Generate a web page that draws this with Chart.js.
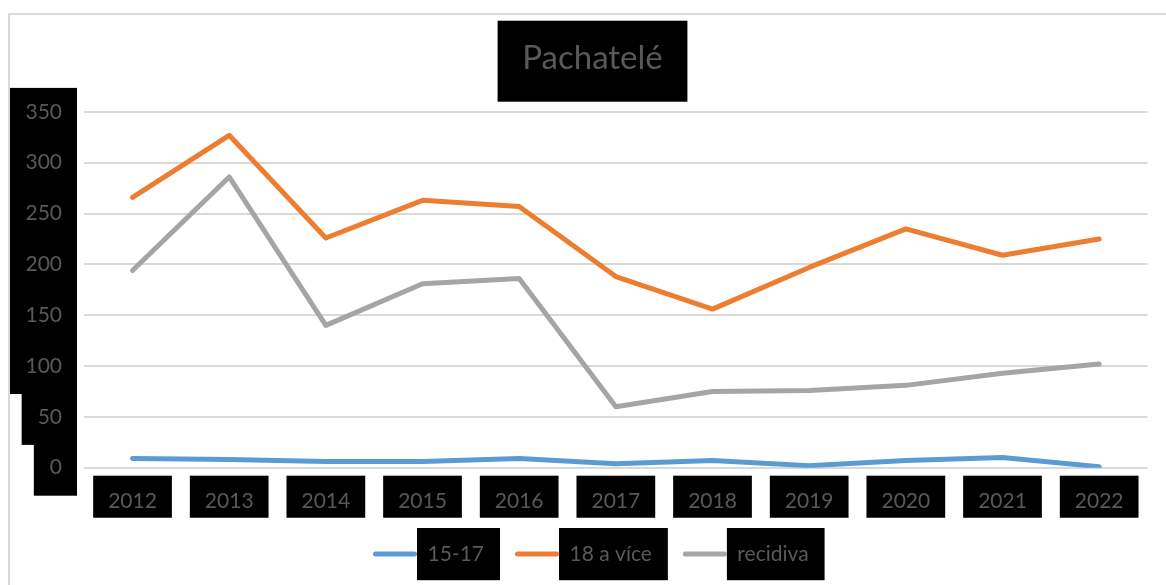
<!DOCTYPE html>
<html>
<head>
<meta charset="utf-8">
<script src="https://cdn.jsdelivr.net/npm/chart.js@4.4.1/dist/chart.umd.min.js"></script>
<style>
html,body{margin:0;padding:0;background:#fff;}
#wrap{width:1166px;height:585px;position:relative;overflow:hidden;}
canvas{display:block;}
</style>
</head>
<body>
<div id="wrap"><canvas id="c" width="1166" height="585"></canvas></div>
<script>
// ---- data ----
const years = ['2012','2013','2014','2015','2016','2017','2018','2019','2020','2021','2022'];
const age1517 = [9, 8, 6, 6, 9, 4, 7, 2, 7, 10, 1];
const age18plus = [266, 327, 226, 263, 257, 188, 156, 197, 235, 209, 225];
const recidiva = [194, 286, 140, 181, 186, 60, 75, 76, 81, 93, 102];
const seriesNames = ['15-17', '18 a více', 'recidiva'];
const seriesColors = ['#5b9bd5', '#ed7d31', '#a5a5a5'];
const titleText = 'Pachatelé';
const yMin = 0, yMax = 350, yStep = 50;

const TEXT = '#595959';
const FONT = 'Lato';
const LEGEND_BOX_W = 44;

const decor = {
  id: 'decor',
  afterLayout(chart) {
    const t = chart.titleBlock;
    if (t) {
      const d = 592.5 - (t.left + t.right) / 2;
      t.left += d; t.right += d;
    }
    const lg = chart.legend;
    if (lg && lg.lineWidths) {
      const pad = lg.options.labels.padding;
      const start = (lg.left + pad + lg.right - lg.lineWidths[0]) / 2;
      const dx = 373 - start;
      lg.left += dx; lg.right += dx;
      const newTop = 554 - pad - 10.5;
      const dy = newTop - lg.top;
      lg.top += dy; lg.bottom += dy;
    }
  },
  beforeDraw(chart) {
    const ctx = chart.ctx;
    ctx.save();
    ctx.strokeStyle = '#d9d9d9';
    ctx.lineWidth = 2;
    ctx.strokeRect(9, 14, 1200, 620);
    const t = chart.titleBlock;
    ctx.font = '33px ' + FONT;
    const w = ctx.measureText(titleText).width;
    const cx = (t.left + t.right) / 2;
    ctx.fillStyle = '#000';
    ctx.fillRect(cx - w / 2 - 24.7, 20.7, w + 49.4, 81);
    const lg = chart.legend;
    const pad = lg.options.labels.padding;
    let x = (lg.left + pad + lg.right - lg.lineWidths[0]) / 2;
    const ty = lg.top + pad + 10.5;
    lg.legendHitBoxes.forEach(hb => {
      const bx = x + LEGEND_BOX_W;
      const ex = x + hb.width + 16;
      ctx.fillRect(bx, ty - 26, ex - bx, 52.2);
      x += hb.width + pad;
    });
    ctx.restore();
  }
};

function build() {
  const mk = (label, data, color) => ({
    label, data,
    borderColor: color, backgroundColor: color,
    borderWidth: 5, pointRadius: 0, pointHoverRadius: 0,
    tension: 0, fill: false,
    borderCapStyle: 'round', borderJoinStyle: 'round'
  });
  new Chart(document.getElementById('c'), {
    type: 'line',
    data: {
      labels: years,
      datasets: [
        mk(seriesNames[0], age1517, seriesColors[0]),
        mk(seriesNames[1], age18plus, seriesColors[1]),
        mk(seriesNames[2], recidiva, seriesColors[2])
      ]
    },
    options: {
      responsive: false,
      animation: false,
      devicePixelRatio: 1,
      layout: { padding: { left: 10, right: 18.5, top: 0, bottom: 5.3 } },
      plugins: {
        tooltip: { enabled: false },
        title: {
          display: true, text: titleText, color: TEXT,
          font: { family: FONT, size: 33, weight: 'normal' },
          padding: { top: 38.2, bottom: 34.1 }
        },
        legend: {
          display: true, position: 'bottom',
          labels: {
            boxWidth: LEGEND_BOX_W, boxHeight: 5, padding: 31,
            color: TEXT, font: { family: FONT, size: 21 },
            generateLabels(chart) {
              return Chart.defaults.plugins.legend.labels.generateLabels(chart).map(it => {
                it.lineWidth = 0; it.borderRadius = 2.5; return it;
              });
            }
          }
        }
      },
      scales: {
        x: {
          offset: true,
          grid: { display: false, drawTicks: false, offset: true },
          border: { display: false },
          ticks: {
            color: TEXT, font: { family: FONT, size: 21 },
            padding: 20.7, maxRotation: 0, autoSkip: false,
            showLabelBackdrop: true, backdropColor: '#000',
            backdropPadding: { top: 12.7, bottom: 14.1, left: 15, right: 15 }
          },
          afterFit(s) { s.height = 50; }
        },
        y: {
          min: yMin, max: yMax,
          grid: { color: '#d9d9d9', lineWidth: 2, drawTicks: false },
          border: { display: false },
          ticks: {
            stepSize: yStep, color: TEXT, font: { family: FONT, size: 21 },
            padding: 22.2,
            showLabelBackdrop: true, backdropColor: '#000',
            backdropPadding: { top: 11.4, bottom: 15.4, left: 16, right: 15 }
          },
          afterFit(s) { s.width = 74.2; }
        }
      }
    },
    plugins: [decor]
  });
}

const ready = (document.fonts && document.fonts.load)
  ? Promise.race([
      Promise.all([document.fonts.load('21px Lato'), document.fonts.load('33px Lato')]),
      new Promise(r => setTimeout(r, 800))
    ])
  : Promise.resolve();
ready.then(build, build);
</script>
</body>
</html>
